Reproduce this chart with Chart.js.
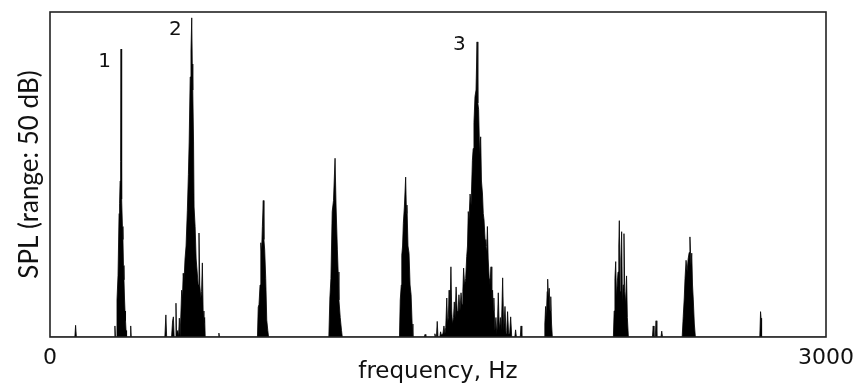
<!DOCTYPE html>
<html>
<head>
<meta charset="utf-8">
<script src="https://cdn.jsdelivr.net/npm/chart.js@4.4.1/dist/chart.umd.min.js"></script>
<style>
  html, body { margin: 0; padding: 0; background: #fff; }
  canvas { display: block; }
</style>
</head>
<body>
<canvas id="espectro" width="856" height="387"></canvas>
<script>
// Espectro: pares [frecuencia Hz, nivel dB] (rango 0-50 dB)
const tonoBajo = [[0, 0], [96, 0], [99, 1.8], [102, 0]];
const armonico1 = [[248, 0], [251, 1.7], [253, 0], [256, 0], [259, 5.7], [263, 9.5], [267, 19], [269, 20.5], [271, 24], [273, 27], [274.5, 44.3], [276, 22], [278, 21.2], [280, 17], [282, 15], [284, 11], [286, 8.8], [288, 6], [290, 4], [292, 2.5], [294, 1], [296, 0], [310, 0], [312, 1.7], [314, 0]];
const armonico2 = [[444, 0], [448, 3.4], [451, 0], [470, 0], [474, 2.5], [477, 3.1], [480, 0], [484, 0], [487, 5.2], [489, 0.5], [494, 1], [497, 0], [500, 2.9], [503, 0], [506, 0], [509, 7.2], [512, 6], [515, 9.8], [518, 8.5], [522, 12], [526, 14], [531, 19.5], [535, 25], [538, 30], [542, 40], [545, 44], [548, 49.1], [550, 42], [552, 38], [555, 30], [557, 20], [561, 17], [565, 12], [569, 10], [573, 8], [576, 16], [579, 8], [583, 6], [586, 7], [589, 11.4], [592, 4], [595, 2.2], [598, 3], [600, 0], [651, 0], [653, 0.6], [655, 0]];
const armonico3 = [[802, 0], [805, 4.6], [808, 5], [812, 8], [815, 14.5], [818, 13], [821, 17], [824.6, 21], [827, 15], [830, 13.4], [834, 9], [838, 2.6], [842, 1], [845, 0]];
const armonico4 = [[1078, 0], [1082, 6], [1086, 9], [1091, 19.3], [1096, 21], [1102, 27.5], [1106, 20], [1111, 13.4], [1114, 10], [1117, 5.7], [1122, 3], [1127, 1], [1130, 0]];
const armonico5 = [[1351, 0], [1354, 5.7], [1358, 8], [1360, 12.6], [1363, 14], [1366, 17.5], [1370, 20], [1375, 24.6], [1378, 19], [1380, 20.3], [1384, 14], [1388, 12.9], [1392, 8], [1396, 6.5], [1400, 2], [1403, 0]];
const armonico6 = [[1447, 0], [1450, 0.4], [1453, 0], [1485, 0], [1488, 0.5], [1491, 0], [1494, 0], [1497, 2.4], [1500, 0], [1507, 0], [1510, 0.8], [1513, 0.3], [1519, 0.5], [1523, 1.7], [1527, 0.5], [1530, 1.5], [1534, 6], [1537, 2], [1540, 3], [1543, 7.2], [1546, 3], [1550, 10.8], [1553, 4], [1556, 2], [1560, 3], [1563, 5.4], [1566, 3], [1570, 7.7], [1574, 4], [1577, 3.5], [1581, 6.5], [1585, 4], [1589, 6.8], [1593, 5], [1596, 7], [1599, 10.6], [1603, 8], [1607, 9], [1611, 12.4], [1614, 14], [1617, 19.3], [1620, 18], [1624, 22], [1628, 20.3], [1633, 27.2], [1636, 29], [1639, 33], [1643, 37], [1647, 38], [1651, 45.4], [1654, 36], [1657, 35], [1661, 28], [1665, 30.8], [1668, 24], [1672, 22], [1675, 19], [1678, 18], [1682, 15], [1685, 14], [1688, 13], [1691, 17], [1694, 12], [1698, 9], [1701, 8], [1705, 10.8], [1708, 5], [1711, 7.2], [1714, 4], [1716, 6], [1720, 1], [1724, 3], [1727, 0.5], [1730, 2], [1733, 6.8], [1737, 1], [1741, 3], [1745, 1], [1750, 9.1], [1754, 1], [1759, 4.7], [1763, 0.5], [1766, 1], [1769, 3.9], [1773, 0.5], [1777, 0.5], [1781, 3.1], [1785, 0], [1797, 0], [1800, 1.1], [1803, 0], [1818, 0], [1821, 1.7], [1824, 0]];
const armonico7 = [[1910, 0], [1913, 2], [1916, 4.7], [1919, 3], [1922, 7], [1924, 8.9], [1927, 6], [1930, 7.5], [1933, 4], [1936, 6.2], [1939, 2], [1942, 0]];
const armonico8 = [[2178, 0], [2181, 4], [2184, 9], [2187, 11.6], [2190, 6], [2193, 8.3], [2196, 10], [2199, 14], [2201, 17.9], [2204, 7], [2207, 12], [2210, 16.2], [2213, 5.2], [2216, 8], [2219, 15.9], [2222, 7], [2225, 5], [2229, 9.4], [2232, 3], [2236, 0], [2329, 0], [2332, 1.7], [2335, 0], [2340, 0], [2343, 2.5], [2346, 0], [2362, 0], [2365, 0.9], [2368, 0]];
const armonico9 = [[2444, 0], [2448, 3.1], [2452, 6], [2455, 9], [2459, 11.8], [2463, 10], [2467, 12], [2471, 13], [2474, 15.4], [2478, 11], [2481, 12.9], [2484, 8], [2487, 5.7], [2491, 2], [2495, 0]];
const armonico10 = [[2744, 0], [2747, 3.9], [2749, 2.9], [2751, 0], [3000, 0]];

const ticksX = [0, 3000];
// Etiquetas de los formantes: [texto, Hz, dB]
const etiquetas = [["1", 211, 42.3], ["2", 485, 47.2], ["3", 1583, 45]];

const espectro = [].concat(tonoBajo, armonico1, armonico2, armonico3, armonico4,
  armonico5, armonico6, armonico7, armonico8, armonico9, armonico10)
  .map(([f, db]) => ({ x: f, y: db }));

// Marco negro alrededor del área del gráfico y números de los picos
const marcoYEtiquetas = {
  id: "marcoYEtiquetas",
  afterDatasetsDraw(chart) {
    const { ctx, chartArea, scales } = chart;
    ctx.save();
    ctx.fillStyle = "#111";
    ctx.font = "20px 'DejaVu Sans'";
    ctx.textAlign = "center";
    ctx.textBaseline = "middle";
    etiquetas.forEach(([txt, f, db]) => {
      ctx.fillText(txt, scales.x.getPixelForValue(f), scales.y.getPixelForValue(db));
    });
    ctx.strokeStyle = "#222";
    ctx.lineWidth = 1.6;
    ctx.strokeRect(chartArea.left, chartArea.top, chartArea.right - chartArea.left, chartArea.bottom - chartArea.top);
    ctx.restore();
  }
};

new Chart(document.getElementById("espectro"), {
  type: "line",
  data: {
    datasets: [{
      data: espectro,
      borderColor: "#000",
      backgroundColor: "#000",
      borderWidth: 0.8,
      fill: "origin",
      pointRadius: 0,
      tension: 0
    }]
  },
  options: {
    responsive: false,
    animation: false,
    devicePixelRatio: 1,
    layout: { padding: { top: 12, right: 30, left: 0, bottom: 0 } },
    plugins: { legend: { display: false }, tooltip: { enabled: false } },
    scales: {
      x: {
        type: "linear",
        min: 0,
        max: 3000,
        grid: { display: false, drawTicks: false },
        border: { display: false },
        afterBuildTicks: (s) => { s.ticks = ticksX.map(v => ({ value: v })); },
        afterFit: (s) => { s.height = 50; s.paddingLeft = 0; s.paddingRight = 0; },
        ticks: {
          color: "#111",
          font: { family: "DejaVu Sans", size: 22 },
          padding: 8,
          maxRotation: 0,
          autoSkip: false,
          callback: (v) => String(v)
        },
        title: { display: true, text: "frequency, Hz", color: "#111", font: { family: "DejaVu Sans", size: 23 }, padding: { top: 0, bottom: 1 } }
      },
      y: {
        min: 0,
        max: 50,
        grid: { display: false, drawTicks: false },
        border: { display: false },
        ticks: { display: false },
        afterFit: (s) => { s.width = 50; },
        title: { display: true, text: "SPL (range: 50 dB)", color: "#111", font: { family: "Lato", size: 26 }, padding: { top: 14, bottom: 0 } }
      }
    }
  },
  plugins: [marcoYEtiquetas]
});
</script>
</body>
</html>
